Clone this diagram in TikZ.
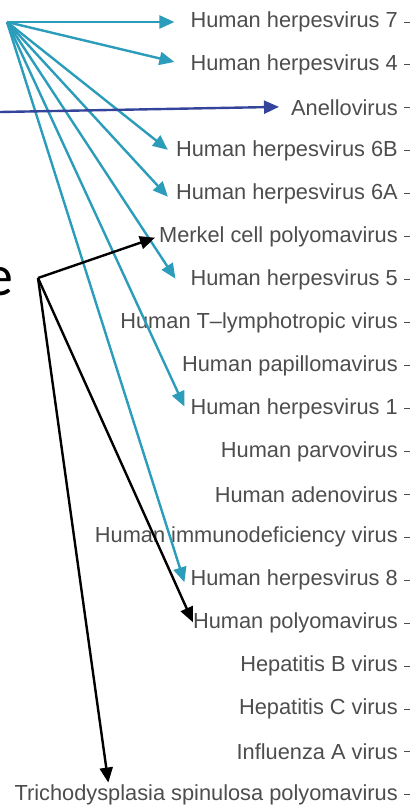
\documentclass[tikz,border=0pt]{standalone}
\usepackage{fontspec}
\setmainfont{Liberation Sans}
\newfontfamily\bigfont{Carlito}
\usetikzlibrary{arrows.meta}
\definecolor{tealc}{HTML}{2B9CBA}
\definecolor{navyc}{HTML}{33449A}
\definecolor{labc}{HTML}{4D4D4D}
\begin{document}
\begin{tikzpicture}[x=1pt,y=-1pt,
  lab/.style={anchor=east,inner sep=0pt,text=labc,font=\fontsize{21.8}{24}\selectfont},
  tick/.style={draw=labc,line width=1pt},
  tarrow/.style={draw=tealc,line width=2.4pt,-{Triangle[length=15pt,width=13pt]}},
  narrow/.style={draw=navyc,line width=2.4pt,-{Triangle[length=15pt,width=13pt]}},
  barrow/.style={draw=black,line width=2.4pt,-{Triangle[length=15pt,width=13pt]}}]
\useasboundingbox (0,0) rectangle (410,806);
\clip (0,0) rectangle (410,806);
% labels
\foreach \n/\t [count=\i from 0] in {
 h7/Human herpesvirus 7,
 h4/Human herpesvirus 4,
 anel/Anellovirus,
 h6b/Human herpesvirus 6B,
 h6a/Human herpesvirus 6A,
 merk/Merkel cell polyomavirus,
 h5/Human herpesvirus 5,
 htlv/Human T--lymphotropic virus,
 hpv/Human papillomavirus,
 h1/Human herpesvirus 1,
 parvo/Human parvovirus,
 adeno/Human adenovirus,
 hiv/Human immunodeficiency virus,
 h8/Human herpesvirus 8,
 hpoly/Human polyomavirus,
 hbv/Hepatitis B virus,
 hcv/Hepatitis C virus,
 flu/Influenza A virus,
 tsp/Trichodysplasia spinulosa polyomavirus}
{
 \node[lab] (\n) at (398,{22+42.94*\i}) {\t};
 \draw[tick] (404,{22+42.94*\i}) -- (410,{22+42.94*\i});
}
% big partial word
\node[anchor=base east,inner sep=0pt,font=\bigfont\fontsize{58}{60}\selectfont] (word) at (14,295) {e};
% sources
\coordinate (tsrc) at (7,22);
\coordinate (bsrc) at (38,278);
\coordinate (nsrc) at (0,112);
\coordinate (tsptip) at ([xshift=94pt,yshift=2pt]tsp.north west);
% teal arrows
\draw[tarrow] (tsrc) -- ([xshift=-16pt]h7.west);
\draw[tarrow] (tsrc) -- ([xshift=-16pt,yshift=3pt]h4.west);
\draw[tarrow] (tsrc) -- ([xshift=-8pt,yshift=1pt]h6b.west);
\draw[tarrow] (tsrc) -- ([xshift=-8pt,yshift=-3pt]h6a.west);
\draw[tarrow] (tsrc) -- ([xshift=-15pt,yshift=1pt]h5.west);
\draw[tarrow] (tsrc) -- ([xshift=-6pt,yshift=2pt]h1.west);
\draw[tarrow] (tsrc) -- ([xshift=-6pt,yshift=-2pt]h8.west);
% navy arrow
\draw[narrow] (nsrc) -- ([xshift=-12pt,yshift=1pt]anel.west);
% black arrows
\draw[barrow] (bsrc) -- ([xshift=-4pt,yshift=-1pt]merk.west);
\draw[barrow] (bsrc) -- ([xshift=0pt,yshift=1pt]hpoly.west);
\draw[barrow] (bsrc) -- (tsptip);
\end{tikzpicture}
\end{document}
